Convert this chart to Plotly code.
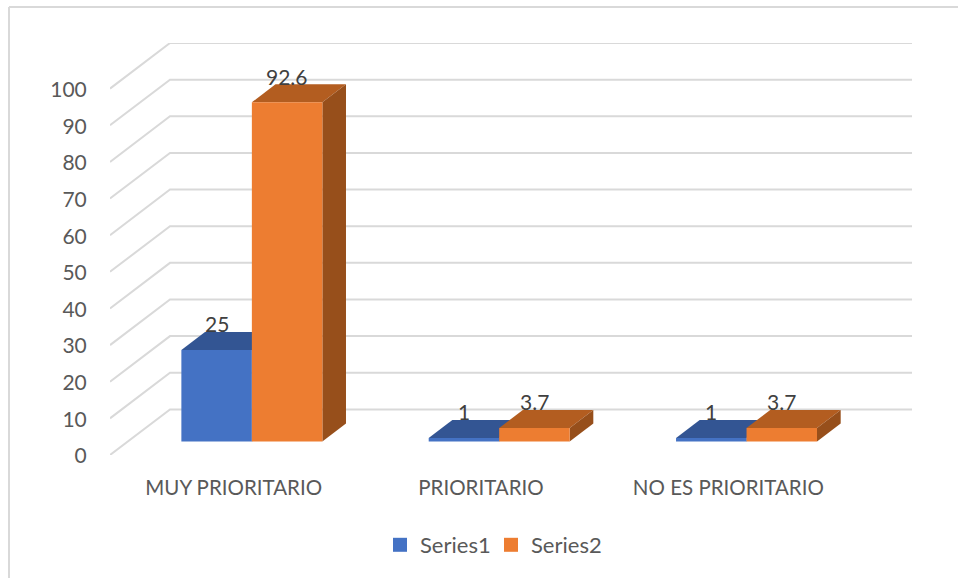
import plotly.graph_objects as go

# ---- data ----
categories = ["MUY PRIORITARIO", "PRIORITARIO", "NO ES PRIORITARIO"]
series1 = [25, 1, 1]
series2 = [92.6, 3.7, 3.7]
series_names = ["Series1", "Series2"]
y_ticks = [0, 10, 20, 30, 40, 50, 60, 70, 80, 90, 100]

# ---- styles ----
FONT = "Lato"
TEXT = "#595959"
LABEL = "#404040"
GRID = "#d9d9d9"
BLUE = {"front": "#4472C4", "top": "#335593", "side": "#2A4A80"}
ORANGE = {"front": "#ED7D31", "top": "#B35D20", "side": "#974F1B"}

# ---- layout and oblique projection ----
W, H = 958, 578
L, R, T, B = 110, 912, 43, 455          # plot area in pixels
DEPTH_X = 0.2426                        # wall offset in category units
DEPTH_Y = 12.45                         # wall offset in value units
D0, D1 = 0.295, 0.689                   # bar front / back depth fractions
BAR_W = 0.285
BAR_SHIFT = 0.002
X_RANGE = [-0.5, 2.5 + DEPTH_X]
Y_RANGE = [0, 100 + DEPTH_Y]


def proj(x, v, d):
    return x + d * DEPTH_X, v + d * DEPTH_Y


def face(points, color):
    xs, ys = zip(*[proj(*p) for p in points])
    return go.Scatter(
        x=list(xs) + [xs[0]], y=list(ys) + [ys[0]],
        mode="lines", fill="toself", fillcolor=color,
        line=dict(width=0, color=color),
        hoverinfo="skip", showlegend=False, cliponaxis=False,
    )


fig = go.Figure()

# gridlines: side wall diagonal plus back wall
gx, gy = [], []
for t in y_ticks:
    x0, y0 = proj(X_RANGE[0], t, 0)
    x1, y1 = proj(X_RANGE[0], t, 1)
    x2, y2 = proj(2.5, t, 1)
    gx += [x0, x1, x2, None]
    gy += [y0, y1, y2, None]
fig.add_trace(go.Scatter(x=gx, y=gy, mode="lines", line=dict(color=GRID, width=2),
                         hoverinfo="skip", showlegend=False, cliponaxis=False))

annotations = []
for i in range(len(categories)):
    c = i + BAR_SHIFT
    for vals, col, left in ((series1, BLUE, c - BAR_W), (series2, ORANGE, c)):
        v = vals[i]
        right = left + BAR_W
        fig.add_trace(face([(left, v, D0), (right, v, D0), (right, v, D1), (left, v, D1)], col["top"]))
        fig.add_trace(face([(right, 0, D0), (right, v, D0), (right, v, D1), (right, 0, D1)], col["side"]))
        fig.add_trace(face([(left, 0, D0), (right, 0, D0), (right, v, D0), (left, v, D0)], col["front"]))
        ax, ay = proj((left + right) / 2, v, D0)
        annotations.append(dict(x=ax, y=ay, xref="x", yref="y", text=str(v), showarrow=False,
                                yanchor="middle", xanchor="center", yshift=26,
                                font=dict(family=FONT, size=21, color=LABEL)))

# legend entries
for name, col in zip(series_names, (BLUE, ORANGE)):
    fig.add_trace(go.Scatter(x=[None], y=[None], mode="markers", name=name,
                             marker=dict(symbol="square", size=14, color=col["front"])))


def px(x):
    return (x - L) / (R - L)


def py(y):
    return (B - y) / (B - T)


border = [((9, H), (9, 7)), ((9, 7), (W, 7))]
shapes = [dict(type="line", xref="paper", yref="paper",
               x0=px(a[0]), y0=py(a[1]), x1=px(b[0]), y1=py(b[1]),
               line=dict(color=GRID, width=2), layer="below") for a, b in border]

fig.update_layout(
    width=W, height=H,
    margin=dict(l=L, r=W - R, t=T, b=H - B, pad=0),
    paper_bgcolor="white", plot_bgcolor="rgba(0,0,0,0)",
    font=dict(family=FONT, size=20, color=TEXT),
    xaxis=dict(range=X_RANGE, tickvals=[0, 1, 2], ticktext=categories, showgrid=False,
               zeroline=False, showline=False, ticks="outside", ticklen=14,
               tickcolor="rgba(0,0,0,0)", tickfont=dict(family=FONT, size=20.5, color=TEXT)),
    yaxis=dict(range=Y_RANGE, tickvals=y_ticks, showgrid=False, zeroline=False, showline=False,
               ticks="outside", ticklen=18, tickcolor="rgba(0,0,0,0)", ticklabelshift=1,
               tickfont=dict(family=FONT, size=21, color=TEXT)),
    legend=dict(orientation="h", x=px(380), y=py(545), xanchor="left", yanchor="middle",
                font=dict(family=FONT, size=22, color=TEXT), traceorder="normal",
                entrywidth=66, entrywidthmode="pixels", bgcolor="rgba(0,0,0,0)"),
    shapes=shapes,
    annotations=annotations,
)

fig.write_html("out.html", config={"displayModeBar": False},
               post_script="document.body.style.margin='0';document.body.style.overflow='hidden';")
